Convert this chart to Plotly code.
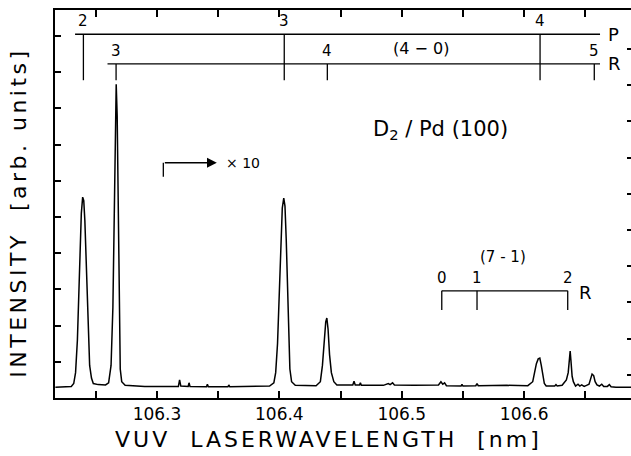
import plotly.graph_objects as go

# ---- spectrum ----
wavelength = [
    106.2170, 106.2250, 106.2300, 106.2320, 106.2335, 106.2350, 106.2362, 106.2372, 106.2382, 106.2393,
    106.2402, 106.2411, 106.2420, 106.2430, 106.2440, 106.2450, 106.2465, 106.2480, 106.2520, 106.2580,
    106.2605, 106.2625, 106.2640, 106.2652, 106.2660, 106.2667, 106.2675, 106.2684, 106.2692, 106.2700,
    106.2712, 106.2740, 106.2900, 106.3100, 106.3175, 106.3185, 106.3195, 106.3255, 106.3262, 106.3270,
    106.3405, 106.3412, 106.3420, 106.3580, 106.3587, 106.3595, 106.3800, 106.3920, 106.3955, 106.3970,
    106.3985, 106.4000, 106.4012, 106.4024, 106.4036, 106.4046, 106.4056, 106.4066, 106.4076, 106.4086,
    106.4100, 106.4130, 106.4300, 106.4335, 106.4352, 106.4366, 106.4379, 106.4388, 106.4398, 106.4410,
    106.4425, 106.4445, 106.4470, 106.4600, 106.4610, 106.4620, 106.4655, 106.4662, 106.4670, 106.4850,
    106.4890, 106.4905, 106.4925, 106.4940, 106.5100, 106.5300, 106.5320, 106.5335, 106.5350, 106.5365,
    106.5485, 106.5492, 106.5500, 106.5605, 106.5615, 106.5625, 106.5787, 106.5858, 106.6030, 106.6058,
    106.6070, 106.6085, 106.6100, 106.6115, 106.6128, 106.6140, 106.6152, 106.6165, 106.6180, 106.6250,
    106.6260, 106.6270, 106.6310, 106.6330, 106.6345, 106.6360, 106.6370, 106.6376, 106.6382, 106.6392,
    106.6402, 106.6420, 106.6440, 106.6455, 106.6470, 106.6490, 106.6510, 106.6530, 106.6545, 106.6555,
    106.6568, 106.6580, 106.6595, 106.6615, 106.6634, 106.6650, 106.6680, 106.6696, 106.6710, 106.6750,
    106.6873,
]
intensity = [
    0.30, 0.30, 0.32, 0.40, 0.70, 1.60, 2.80, 4.20, 5.10, 5.55,
    5.45, 4.90, 3.90, 2.70, 1.60, 0.90, 0.55, 0.40, 0.37, 0.36,
    0.42, 0.90, 2.50, 5.00, 7.50, 8.67, 7.80, 5.00, 2.20, 0.80,
    0.45, 0.35, 0.32, 0.32, 0.32, 0.50, 0.33, 0.32, 0.42, 0.32,
    0.31, 0.38, 0.31, 0.31, 0.36, 0.31, 0.31, 0.33, 0.42, 0.70,
    1.50, 3.00, 4.40, 5.25, 5.52, 5.30, 4.40, 3.00, 1.60, 0.80,
    0.45, 0.35, 0.34, 0.45, 0.90, 1.60, 2.10, 2.21, 1.90, 1.20,
    0.70, 0.45, 0.36, 0.36, 0.46, 0.36, 0.36, 0.42, 0.35, 0.35,
    0.40, 0.37, 0.42, 0.36, 0.35, 0.36, 0.45, 0.38, 0.42, 0.34,
    0.33, 0.38, 0.33, 0.34, 0.40, 0.34, 0.35, 0.35, 0.34, 0.42,
    0.45, 0.70, 0.95, 1.08, 1.10, 0.90, 0.60, 0.40, 0.33, 0.33,
    0.37, 0.33, 0.35, 0.45, 0.50, 0.70, 1.00, 1.30, 1.05, 0.60,
    0.45, 0.33, 0.38, 0.33, 0.36, 0.32, 0.35, 0.38, 0.55, 0.66,
    0.62, 0.45, 0.36, 0.33, 0.38, 0.32, 0.32, 0.37, 0.31, 0.30,
    0.30,
]

# ---- axis ticks ----
x_tick_vals = [106.25, 106.30, 106.35, 106.40, 106.45, 106.50, 106.55, 106.60, 106.65]
x_tick_text = ["", "106.3", "", "106.4", "", "106.5", "", "106.6", ""]
y_tick_vals = [1, 2, 3, 4, 5, 6, 7, 8, 9, 10]

# ---- line assignments ----
p_branch_j = ["2", "3", "4"]
p_branch_wl = [106.2399, 106.4040, 106.6130]
r_branch_j = ["3", "4", "5"]
r_branch_wl = [106.2666, 106.4392, 106.6573]
r71_j = ["0", "1", "2"]
r71_wl = [106.5327, 106.5615, 106.6356]

X_RANGE = [106.2167, 106.6873]
Y_RANGE = [0, 10.72]

FONT = "DejaVu Sans"
BLACK = "black"

fig = go.Figure()
fig.add_trace(go.Scatter(x=wavelength, y=intensity, mode="lines",
                         line=dict(color=BLACK, width=1.5), showlegend=False,
                         hoverinfo="skip"))
# invisible trace so that the right-hand tick axis is drawn
fig.add_trace(go.Scatter(x=[None], y=[None], yaxis="y2", showlegend=False))

shapes = []
annotations = []

def hline(x0, x1, y):
    shapes.append(dict(type="line", xref="x", yref="y", x0=x0, x1=x1, y0=y, y1=y,
                       line=dict(color=BLACK, width=1.3)))

def vline(x, y0, y1):
    shapes.append(dict(type="line", xref="x", yref="y", x0=x, x1=x, y0=y0, y1=y1,
                       line=dict(color=BLACK, width=1.3)))

def label(x, y, text, size=15, xanchor="center", yanchor="middle"):
    annotations.append(dict(x=x, y=y, xref="x", yref="y", text=text, showarrow=False,
                            font=dict(family=FONT, size=size, color=BLACK),
                            xanchor=xanchor, yanchor=yanchor))

# (4-0) P branch
P_Y, P_TICK_BOTTOM = 10.05, 8.78
hline(106.2331, 106.6620, P_Y)
for j, w in zip(p_branch_j, p_branch_wl):
    vline(w, P_TICK_BOTTOM, P_Y)
    label(w, P_Y + 0.05, j, yanchor="bottom")
label(106.6665, P_Y, "P", size=18, xanchor="left")

# (4-0) R branch
R_Y, R_TICK_BOTTOM = 9.23, 8.78
hline(106.2596, 106.6620, R_Y)
for j, w in zip(r_branch_j, r_branch_wl):
    vline(w, R_TICK_BOTTOM, R_Y)
    label(w, R_Y + 0.05, j, yanchor="bottom")
label(106.6665, R_Y, "R", size=18, xanchor="left")
label(106.5158, 9.66, "(4 − 0)", size=16)

# (7-1) R branch
R71_Y, R71_TICK_BOTTOM = 2.96, 2.43
hline(r71_wl[0], r71_wl[-1], R71_Y)
for j, w in zip(r71_j, r71_wl):
    vline(w, R71_TICK_BOTTOM, R71_Y)
    label(w, R71_Y + 0.05, j, yanchor="bottom")
label(106.6430, R71_Y - 0.05, "R", size=18, xanchor="left")
label(106.5828, 3.90, "(7 - 1)", size=15)

# title inside plot
label(106.532, 7.40, "D<sub>2</sub> / Pd (100)", size=21)

# x10 marker
ARROW_X0, ARROW_X1, ARROW_Y, ARROW_Y0 = 106.3052, 106.3489, 6.50, 6.11
vline(ARROW_X0, ARROW_Y0, ARROW_Y)
annotations.append(dict(x=ARROW_X1, y=ARROW_Y, ax=ARROW_X0, ay=ARROW_Y, xref="x", yref="y",
                        axref="x", ayref="y", text="", showarrow=True, arrowhead=2,
                        arrowsize=1.4, arrowwidth=1.4, arrowcolor=BLACK))
label(106.3545, ARROW_Y, "× 10", size=14, xanchor="left")

# axis titles
annotations.append(dict(x=0.475, y=-0.07, xref="paper", yref="paper", yanchor="top",
                        text='<span style="letter-spacing:3px">VUV  LASERWAVELENGTH  [nm]</span>',
                        showarrow=False,
                        font=dict(family=FONT, size=22, color=BLACK)))
annotations.append(dict(x=-0.064, y=0.478, xref="paper", yref="paper", xanchor="center",
                        text='<span style="letter-spacing:3.5px">INTENSITY  [arb. units]</span>',
                        showarrow=False, textangle=-90,
                        font=dict(family=FONT, size=22, color=BLACK)))

fig.update_layout(
    width=631, height=456,
    margin=dict(l=55, r=0, t=10, b=58),
    paper_bgcolor="white", plot_bgcolor="white",
    shapes=shapes, annotations=annotations,
    xaxis=dict(range=X_RANGE, tickvals=x_tick_vals, ticktext=x_tick_text,
               ticks="inside", ticklen=7, tickwidth=1.5, tickcolor=BLACK,
               showline=True, linewidth=2, linecolor=BLACK, mirror="ticks",
               showgrid=False, zeroline=False,
               tickfont=dict(family=FONT, size=17, color=BLACK)),
    yaxis=dict(range=Y_RANGE, tickvals=y_tick_vals, ticks="inside", ticklen=6,
               tickwidth=1.5, tickcolor=BLACK, showticklabels=False,
               showline=True, linewidth=2, linecolor=BLACK, mirror=False,
               showgrid=False, zeroline=False),
    yaxis2=dict(overlaying="y", side="right", range=[0.36, 11.08], tickvals=y_tick_vals,
                ticks="inside", ticklen=4, tickwidth=1.5, tickcolor=BLACK,
                showticklabels=False, showline=False, showgrid=False, zeroline=False),
)

fig.write_html("out.html", config={"displayModeBar": False},
               post_script="document.body.style.margin='0';"
               "document.body.style.overflow='hidden';")
